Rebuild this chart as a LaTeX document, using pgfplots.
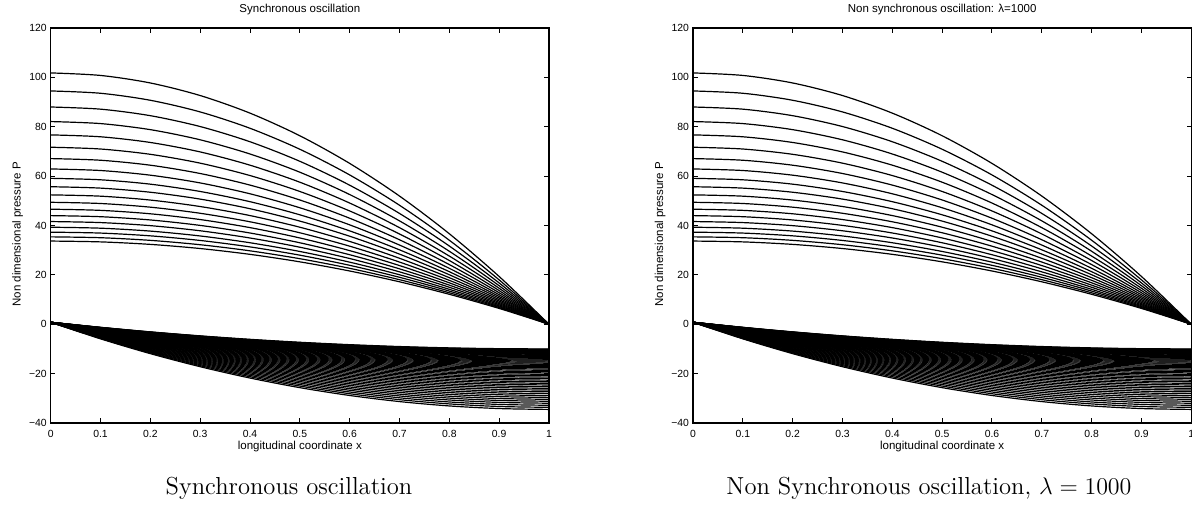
\documentclass[border=0pt]{standalone}
\usepackage{fontspec}
\usepackage{pgfplots}
\pgfplotsset{compat=1.18}
\newfontfamily\axfont{Liberation Sans}

\newcommand\upperfam{%
\addplot coordinates {(0,101.8)(0.1,100.78)(0.2,97.73)(0.3,92.64)(0.4,85.51)(0.5,76.35)(0.6,65.15)(0.7,51.92)(0.8,36.65)(0.9,19.34)(1,0)};
\addplot coordinates {(0,94.5)(0.1,93.56)(0.2,90.72)(0.3,86.0)(0.4,79.38)(0.5,70.88)(0.6,60.48)(0.7,48.2)(0.8,34.02)(0.9,17.96)(1,0)};
\addplot coordinates {(0,88.0)(0.1,87.12)(0.2,84.48)(0.3,80.08)(0.4,73.92)(0.5,66.0)(0.6,56.32)(0.7,44.88)(0.8,31.68)(0.9,16.72)(1,0)};
\addplot coordinates {(0,82.1)(0.1,81.28)(0.2,78.82)(0.3,74.71)(0.4,68.96)(0.5,61.58)(0.6,52.54)(0.7,41.87)(0.8,29.56)(0.9,15.6)(1,0)};
\addplot coordinates {(0,76.7)(0.1,75.93)(0.2,73.63)(0.3,69.8)(0.4,64.43)(0.5,57.53)(0.6,49.09)(0.7,39.12)(0.8,27.61)(0.9,14.57)(1,0)};
\addplot coordinates {(0,71.7)(0.1,70.98)(0.2,68.83)(0.3,65.25)(0.4,60.23)(0.5,53.78)(0.6,45.89)(0.7,36.57)(0.8,25.81)(0.9,13.62)(1,0)};
\addplot coordinates {(0,67.1)(0.1,66.43)(0.2,64.42)(0.3,61.06)(0.4,56.36)(0.5,50.33)(0.6,42.94)(0.7,34.22)(0.8,24.16)(0.9,12.75)(1,0)};
\addplot coordinates {(0,62.9)(0.1,62.27)(0.2,60.38)(0.3,57.24)(0.4,52.84)(0.5,47.18)(0.6,40.26)(0.7,32.08)(0.8,22.64)(0.9,11.95)(1,0)};
\addplot coordinates {(0,59.1)(0.1,58.51)(0.2,56.74)(0.3,53.78)(0.4,49.64)(0.5,44.33)(0.6,37.82)(0.7,30.14)(0.8,21.28)(0.9,11.23)(1,0)};
\addplot coordinates {(0,55.7)(0.1,55.14)(0.2,53.47)(0.3,50.69)(0.4,46.79)(0.5,41.78)(0.6,35.65)(0.7,28.41)(0.8,20.05)(0.9,10.58)(1,0)};
\addplot coordinates {(0,52.4)(0.1,51.88)(0.2,50.3)(0.3,47.68)(0.4,44.02)(0.5,39.3)(0.6,33.54)(0.7,26.72)(0.8,18.86)(0.9,9.96)(1,0)};
\addplot coordinates {(0,49.4)(0.1,48.91)(0.2,47.42)(0.3,44.95)(0.4,41.5)(0.5,37.05)(0.6,31.62)(0.7,25.19)(0.8,17.78)(0.9,9.39)(1,0)};
\addplot coordinates {(0,46.6)(0.1,46.13)(0.2,44.74)(0.3,42.41)(0.4,39.14)(0.5,34.95)(0.6,29.82)(0.7,23.77)(0.8,16.78)(0.9,8.85)(1,0)};
\addplot coordinates {(0,44.0)(0.1,43.56)(0.2,42.24)(0.3,40.04)(0.4,36.96)(0.5,33.0)(0.6,28.16)(0.7,22.44)(0.8,15.84)(0.9,8.36)(1,0)};
\addplot coordinates {(0,41.6)(0.1,41.18)(0.2,39.94)(0.3,37.86)(0.4,34.94)(0.5,31.2)(0.6,26.62)(0.7,21.22)(0.8,14.98)(0.9,7.9)(1,0)};
\addplot coordinates {(0,39.3)(0.1,38.91)(0.2,37.73)(0.3,35.76)(0.4,33.01)(0.5,29.48)(0.6,25.15)(0.7,20.04)(0.8,14.15)(0.9,7.47)(1,0)};
\addplot coordinates {(0,37.3)(0.1,36.93)(0.2,35.81)(0.3,33.94)(0.4,31.33)(0.5,27.98)(0.6,23.87)(0.7,19.02)(0.8,13.43)(0.9,7.09)(1,0)};
\addplot coordinates {(0,35.4)(0.1,35.05)(0.2,33.98)(0.3,32.21)(0.4,29.74)(0.5,26.55)(0.6,22.66)(0.7,18.05)(0.8,12.74)(0.9,6.73)(1,0)};
\addplot coordinates {(0,33.7)(0.1,33.36)(0.2,32.35)(0.3,30.67)(0.4,28.31)(0.5,25.28)(0.6,21.57)(0.7,17.19)(0.8,12.13)(0.9,6.4)(1,0)};
}

\newcommand\lowerfam{%
\addplot coordinates {(0,0.8)(0.1,-1.25)(0.2,-3.09)(0.3,-4.71)(0.4,-6.11)(0.5,-7.3)(0.6,-8.27)(0.7,-9.03)(0.8,-9.57)(0.9,-9.89)(1,-10)};
\addplot coordinates {(0,0.8)(0.1,-1.28)(0.2,-3.14)(0.3,-4.78)(0.4,-6.21)(0.5,-7.41)(0.6,-8.40)(0.7,-9.16)(0.8,-9.71)(0.9,-10.04)(1,-10.15)};
\addplot coordinates {(0,0.8)(0.1,-1.31)(0.2,-3.20)(0.3,-4.87)(0.4,-6.31)(0.5,-7.53)(0.6,-8.53)(0.7,-9.31)(0.8,-9.87)(0.9,-10.20)(1,-10.31)};
\addplot coordinates {(0,0.8)(0.1,-1.35)(0.2,-3.26)(0.3,-4.96)(0.4,-6.43)(0.5,-7.67)(0.6,-8.68)(0.7,-9.47)(0.8,-10.04)(0.9,-10.38)(1,-10.49)};
\addplot coordinates {(0,0.8)(0.1,-1.38)(0.2,-3.34)(0.3,-5.06)(0.4,-6.55)(0.5,-7.82)(0.6,-8.85)(0.7,-9.66)(0.8,-10.23)(0.9,-10.58)(1,-10.69)};
\addplot coordinates {(0,0.8)(0.1,-1.42)(0.2,-3.41)(0.3,-5.17)(0.4,-6.69)(0.5,-7.98)(0.6,-9.03)(0.7,-9.85)(0.8,-10.43)(0.9,-10.78)(1,-10.90)};
\addplot coordinates {(0,0.8)(0.1,-1.46)(0.2,-3.49)(0.3,-5.28)(0.4,-6.83)(0.5,-8.14)(0.6,-9.21)(0.7,-10.05)(0.8,-10.64)(0.9,-11.00)(1,-11.12)};
\addplot coordinates {(0,0.8)(0.1,-1.51)(0.2,-3.58)(0.3,-5.40)(0.4,-6.98)(0.5,-8.32)(0.6,-9.41)(0.7,-10.27)(0.8,-10.87)(0.9,-11.24)(1,-11.36)};
\addplot coordinates {(0,0.8)(0.1,-1.56)(0.2,-3.67)(0.3,-5.53)(0.4,-7.14)(0.5,-8.51)(0.6,-9.62)(0.7,-10.49)(0.8,-11.11)(0.9,-11.49)(1,-11.61)};
\addplot coordinates {(0,0.8)(0.1,-1.61)(0.2,-3.76)(0.3,-5.67)(0.4,-7.32)(0.5,-8.71)(0.6,-9.85)(0.7,-10.74)(0.8,-11.37)(0.9,-11.75)(1,-11.88)};
\addplot coordinates {(0,0.8)(0.1,-1.66)(0.2,-3.87)(0.3,-5.81)(0.4,-7.49)(0.5,-8.92)(0.6,-10.09)(0.7,-10.99)(0.8,-11.64)(0.9,-12.03)(1,-12.16)};
\addplot coordinates {(0,0.8)(0.1,-1.72)(0.2,-3.97)(0.3,-5.96)(0.4,-7.68)(0.5,-9.14)(0.6,-10.33)(0.7,-11.26)(0.8,-11.92)(0.9,-12.32)(1,-12.45)};
\addplot coordinates {(0,0.8)(0.1,-1.78)(0.2,-4.08)(0.3,-6.12)(0.4,-7.88)(0.5,-9.37)(0.6,-10.59)(0.7,-11.54)(0.8,-12.22)(0.9,-12.62)(1,-12.76)};
\addplot coordinates {(0,0.8)(0.1,-1.84)(0.2,-4.20)(0.3,-6.28)(0.4,-8.09)(0.5,-9.62)(0.6,-10.87)(0.7,-11.84)(0.8,-12.53)(0.9,-12.95)(1,-13.09)};
\addplot coordinates {(0,0.8)(0.1,-1.90)(0.2,-4.32)(0.3,-6.46)(0.4,-8.31)(0.5,-9.87)(0.6,-11.15)(0.7,-12.15)(0.8,-12.86)(0.9,-13.29)(1,-13.43)};
\addplot coordinates {(0,0.8)(0.1,-1.97)(0.2,-4.45)(0.3,-6.64)(0.4,-8.53)(0.5,-10.14)(0.6,-11.45)(0.7,-12.47)(0.8,-13.20)(0.9,-13.63)(1,-13.78)};
\addplot coordinates {(0,0.8)(0.1,-2.04)(0.2,-4.58)(0.3,-6.82)(0.4,-8.77)(0.5,-10.41)(0.6,-11.76)(0.7,-12.80)(0.8,-13.55)(0.9,-14.00)(1,-14.15)};
\addplot coordinates {(0,0.8)(0.1,-2.11)(0.2,-4.72)(0.3,-7.02)(0.4,-9.01)(0.5,-10.70)(0.6,-12.08)(0.7,-13.15)(0.8,-13.92)(0.9,-14.38)(1,-14.53)};
\addplot coordinates {(0,0.8)(0.1,-2.19)(0.2,-4.86)(0.3,-7.22)(0.4,-9.27)(0.5,-11.00)(0.6,-12.41)(0.7,-13.51)(0.8,-14.30)(0.9,-14.77)(1,-14.93)};
\addplot coordinates {(0,0.8)(0.1,-2.27)(0.2,-5.01)(0.3,-7.43)(0.4,-9.53)(0.5,-11.31)(0.6,-12.76)(0.7,-13.89)(0.8,-14.69)(0.9,-15.18)(1,-15.34)};
\addplot coordinates {(0,0.8)(0.1,-2.35)(0.2,-5.17)(0.3,-7.65)(0.4,-9.80)(0.5,-11.63)(0.6,-13.12)(0.7,-14.28)(0.8,-15.11)(0.9,-15.60)(1,-15.77)};
\addplot coordinates {(0,0.8)(0.1,-2.43)(0.2,-5.32)(0.3,-7.88)(0.4,-10.09)(0.5,-11.96)(0.6,-13.49)(0.7,-14.68)(0.8,-15.53)(0.9,-16.04)(1,-16.21)};
\addplot coordinates {(0,0.8)(0.1,-2.52)(0.2,-5.49)(0.3,-8.11)(0.4,-10.38)(0.5,-12.30)(0.6,-13.87)(0.7,-15.10)(0.8,-15.97)(0.9,-16.50)(1,-16.67)};
\addplot coordinates {(0,0.8)(0.1,-2.61)(0.2,-5.66)(0.3,-8.35)(0.4,-10.68)(0.5,-12.66)(0.6,-14.27)(0.7,-15.53)(0.8,-16.42)(0.9,-16.96)(1,-17.14)};
\addplot coordinates {(0,0.8)(0.1,-2.70)(0.2,-5.83)(0.3,-8.60)(0.4,-11.00)(0.5,-13.02)(0.6,-14.68)(0.7,-15.97)(0.8,-16.89)(0.9,-17.45)(1,-17.63)};
\addplot coordinates {(0,0.8)(0.1,-2.80)(0.2,-6.01)(0.3,-8.85)(0.4,-11.32)(0.5,-13.40)(0.6,-15.10)(0.7,-16.43)(0.8,-17.37)(0.9,-17.94)(1,-18.13)};
\addplot coordinates {(0,0.8)(0.1,-2.89)(0.2,-6.20)(0.3,-9.11)(0.4,-11.64)(0.5,-13.78)(0.6,-15.53)(0.7,-16.89)(0.8,-17.86)(0.9,-18.45)(1,-18.64)};
\addplot coordinates {(0,0.8)(0.1,-2.99)(0.2,-6.39)(0.3,-9.38)(0.4,-11.98)(0.5,-14.18)(0.6,-15.97)(0.7,-17.37)(0.8,-18.37)(0.9,-18.97)(1,-19.17)};
\addplot coordinates {(0,0.8)(0.1,-3.10)(0.2,-6.58)(0.3,-9.66)(0.4,-12.33)(0.5,-14.58)(0.6,-16.43)(0.7,-17.86)(0.8,-18.89)(0.9,-19.50)(1,-19.71)};
\addplot coordinates {(0,0.8)(0.1,-3.20)(0.2,-6.79)(0.3,-9.95)(0.4,-12.68)(0.5,-15.00)(0.6,-16.90)(0.7,-18.37)(0.8,-19.43)(0.9,-20.06)(1,-20.27)};
\addplot coordinates {(0,0.8)(0.1,-3.31)(0.2,-6.99)(0.3,-10.24)(0.4,-13.05)(0.5,-15.43)(0.6,-17.38)(0.7,-18.89)(0.8,-19.97)(0.9,-20.62)(1,-20.84)};
\addplot coordinates {(0,0.8)(0.1,-3.42)(0.2,-7.20)(0.3,-10.54)(0.4,-13.43)(0.5,-15.87)(0.6,-17.87)(0.7,-19.43)(0.8,-20.54)(0.9,-21.21)(1,-21.43)};
\addplot coordinates {(0,0.8)(0.1,-3.54)(0.2,-7.42)(0.3,-10.84)(0.4,-13.81)(0.5,-16.32)(0.6,-18.38)(0.7,-19.98)(0.8,-21.12)(0.9,-21.80)(1,-22.03)};
\addplot coordinates {(0,0.8)(0.1,-3.66)(0.2,-7.64)(0.3,-11.16)(0.4,-14.21)(0.5,-16.79)(0.6,-18.90)(0.7,-20.54)(0.8,-21.71)(0.9,-22.42)(1,-22.65)};
\addplot coordinates {(0,0.8)(0.1,-3.78)(0.2,-7.87)(0.3,-11.48)(0.4,-14.61)(0.5,-17.26)(0.6,-19.43)(0.7,-21.11)(0.8,-22.32)(0.9,-23.04)(1,-23.28)};
\addplot coordinates {(0,0.8)(0.1,-3.90)(0.2,-8.10)(0.3,-11.81)(0.4,-15.03)(0.5,-17.75)(0.6,-19.97)(0.7,-21.70)(0.8,-22.94)(0.9,-23.68)(1,-23.93)};
\addplot coordinates {(0,0.8)(0.1,-4.02)(0.2,-8.34)(0.3,-12.15)(0.4,-15.45)(0.5,-18.24)(0.6,-20.53)(0.7,-22.30)(0.8,-23.57)(0.9,-24.34)(1,-24.59)};
\addplot coordinates {(0,0.8)(0.1,-4.15)(0.2,-8.58)(0.3,-12.49)(0.4,-15.88)(0.5,-18.75)(0.6,-21.09)(0.7,-22.91)(0.8,-24.22)(0.9,-25.00)(1,-25.26)};
\addplot coordinates {(0,0.8)(0.1,-4.28)(0.2,-8.83)(0.3,-12.84)(0.4,-16.32)(0.5,-19.26)(0.6,-21.67)(0.7,-23.54)(0.8,-24.88)(0.9,-25.68)(1,-25.95)};
\addplot coordinates {(0,0.8)(0.1,-4.42)(0.2,-9.09)(0.3,-13.20)(0.4,-16.77)(0.5,-19.80)(0.6,-22.27)(0.7,-24.19)(0.8,-25.56)(0.9,-26.39)(1,-26.66)};
\addplot coordinates {(0,0.8)(0.1,-4.55)(0.2,-9.34)(0.3,-13.57)(0.4,-17.24)(0.5,-20.34)(0.6,-22.87)(0.7,-24.84)(0.8,-26.25)(0.9,-27.10)(1,-27.38)};
\addplot coordinates {(0,0.8)(0.1,-4.69)(0.2,-9.61)(0.3,-13.94)(0.4,-17.70)(0.5,-20.88)(0.6,-23.48)(0.7,-25.51)(0.8,-26.95)(0.9,-27.82)(1,-28.11)};
\addplot coordinates {(0,0.8)(0.1,-4.84)(0.2,-9.88)(0.3,-14.33)(0.4,-18.18)(0.5,-21.45)(0.6,-24.11)(0.7,-26.19)(0.8,-27.67)(0.9,-28.56)(1,-28.86)};
\addplot coordinates {(0,0.8)(0.1,-4.98)(0.2,-10.15)(0.3,-14.71)(0.4,-18.67)(0.5,-22.02)(0.6,-24.75)(0.7,-26.88)(0.8,-28.40)(0.9,-29.32)(1,-29.62)};
\addplot coordinates {(0,0.8)(0.1,-5.13)(0.2,-10.43)(0.3,-15.11)(0.4,-19.17)(0.5,-22.60)(0.6,-25.41)(0.7,-27.59)(0.8,-29.15)(0.9,-30.09)(1,-30.40)};
\addplot coordinates {(0,0.8)(0.1,-5.28)(0.2,-10.72)(0.3,-15.51)(0.4,-19.67)(0.5,-23.19)(0.6,-26.07)(0.7,-28.31)(0.8,-29.91)(0.9,-30.87)(1,-31.19)};
\addplot coordinates {(0,0.8)(0.1,-5.43)(0.2,-11.00)(0.3,-15.92)(0.4,-20.19)(0.5,-23.79)(0.6,-26.74)(0.7,-29.04)(0.8,-30.68)(0.9,-31.66)(1,-31.99)};
\addplot coordinates {(0,0.8)(0.1,-5.59)(0.2,-11.30)(0.3,-16.35)(0.4,-20.72)(0.5,-24.42)(0.6,-27.44)(0.7,-29.79)(0.8,-31.48)(0.9,-32.48)(1,-32.82)};
\addplot coordinates {(0,0.8)(0.1,-5.75)(0.2,-11.60)(0.3,-16.77)(0.4,-21.25)(0.5,-25.04)(0.6,-28.14)(0.7,-30.55)(0.8,-32.27)(0.9,-33.31)(1,-33.65)};
\addplot coordinates {(0,0.8)(0.1,-5.91)(0.2,-11.91)(0.3,-17.20)(0.4,-21.79)(0.5,-25.68)(0.6,-28.85)(0.7,-31.32)(0.8,-33.09)(0.9,-34.15)(1,-34.50)};
}

\pgfplotsset{
  matlab/.style={
    scale only axis,
    width=249.15pt, height=197.5pt,
    anchor=south west,
    xmin=0, xmax=1, ymin=-40, ymax=120,
    xtick={0,0.1,0.2,0.3,0.4,0.5,0.6,0.7,0.8,0.9,1},
    xticklabels={0,0.1,0.2,0.3,0.4,0.5,0.6,0.7,0.8,0.9,1},
    ytick={-40,-20,0,20,40,60,80,100,120},
    yticklabels={−40,−20,0,20,40,60,80,100,120},
    tick align=inside,
    major tick length=2.3pt,
    axis line style={line width=0.6pt},
    every tick/.style={black, line width=0.5pt},
    tick label style={font=\axfont\fontsize{5.2}{6}\selectfont},
    x tick label style={anchor=base, yshift=-7.15pt},
    y tick label style={inner sep=1.8pt},
    label style={font=\axfont\fontsize{5.75}{6.5}\selectfont},
    every axis title shift=0pt,
    title style={font=\axfont\fontsize{5.75}{6.5}\selectfont, at={(axis description cs:0.5,1)}, anchor=base, yshift=7.6pt},
    xlabel style={at={(axis description cs:0.5,0)}, anchor=base, yshift=-13pt},
    ylabel style={at={(axis description cs:-0.0602,0.4775)}, anchor=base},
    xlabel={longitudinal coordinate x},
    ylabel={Non dimensional pressure P},
    cycle list={{black,solid}},
    every axis plot post/.append style={black, solid, line width=0.6pt, mark=none, smooth},
  }
}

\begin{document}
\begin{tikzpicture}
\begin{axis}[matlab, at={(25.35pt,48pt)}, title={Synchronous oscillation}]
\upperfam
\lowerfam
\end{axis}
\begin{axis}[matlab, at={(346.5pt,48pt)}, title={Non synchronous oscillation: λ=1000}]
\upperfam
\lowerfam
\end{axis}
\node[anchor=base, font=\fontsize{12.3}{14}\selectfont] at (144.5pt,12.5pt) {Synchronous oscillation};
\node[anchor=base, font=\fontsize{12.3}{14}\selectfont] at (464.5pt,12.5pt) {Non Synchronous oscillation, $\lambda = 1000$};
\pgfresetboundingbox
\useasboundingbox (0,0) rectangle (596pt,259.5pt);
\end{tikzpicture}
\end{document}
